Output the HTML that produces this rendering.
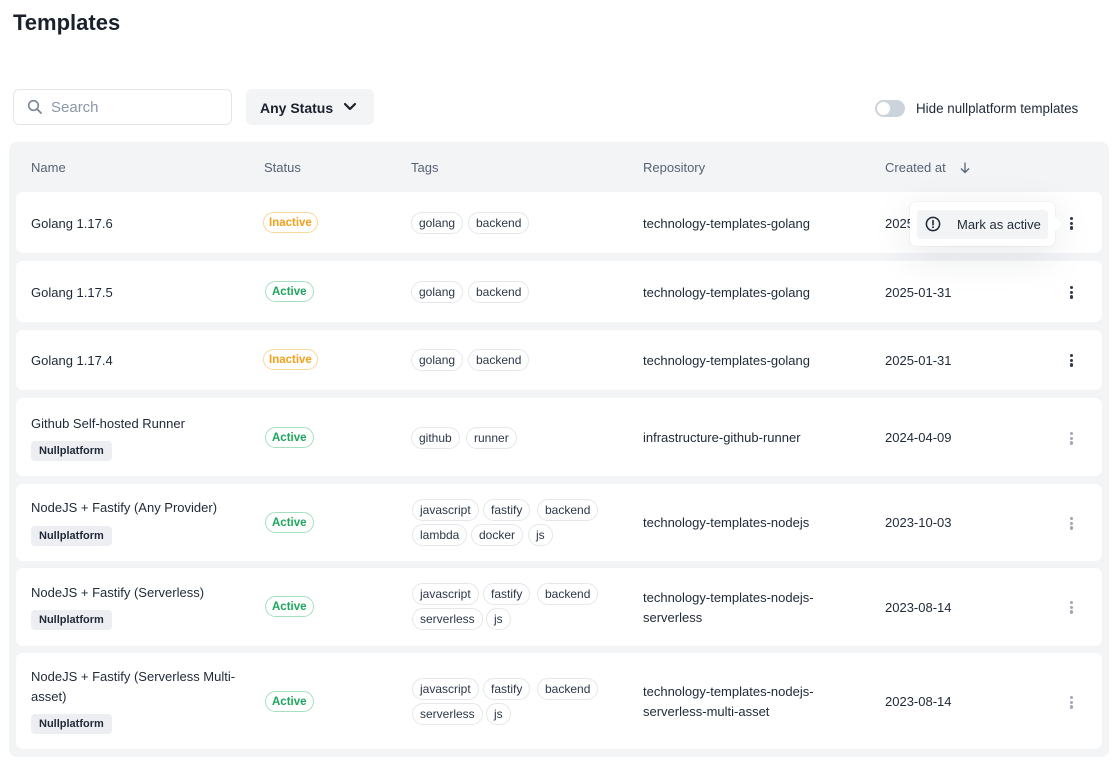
<!DOCTYPE html>
<html><head><meta charset="utf-8"><style>
*{box-sizing:border-box;margin:0;padding:0}
body{width:1115px;height:769px;background:#fff;font-family:"Liberation Sans",sans-serif;color:#1f2937;position:relative;overflow:hidden}
.a{position:absolute}
.t{font-size:13px;line-height:20px;white-space:nowrap;color:#1f2937;margin-top:1px}
.card{position:absolute;left:16px;width:1086px;background:#fff;border-radius:7px}
.hd{position:absolute;top:158px;font-size:13px;line-height:20px;color:#566274}
.badge{position:absolute;height:21px;line-height:20px;border-radius:11px;font-size:11.5px;font-weight:bold;padding:0 5px;border:1px solid}
.in{color:#f5a01a;border-color:#fbd79c}
.ac{color:#1ea55e;border-color:#a6dfc0;padding:0 6px}
.tag{position:absolute;height:22px;line-height:21px;border:1px solid #e5e7eb;border-radius:11px;font-size:12px;padding:0 7px;color:#2d3748;white-space:nowrap}
.np{position:absolute;left:31px;height:20px;line-height:20px;padding:0 8px;background:#eceef1;border-radius:4px;font-size:11px;font-weight:bold;color:#1f2937}
.dots{position:absolute;left:1070px;width:4px}
.dots i{display:block;width:3.4px;height:3.4px;border-radius:50%;margin-bottom:1.2px;background:#2f3a4a}
.dots.l i{background:#a0a7b3}
</style></head><body>
<div class="a" style="left:13px;top:9px;font-size:22px;font-weight:bold;color:#1a202c;line-height:28px">Templates</div>

<div class="a" style="left:13px;top:89px;width:219px;height:36px;border:1px solid #e2e6eb;border-radius:6px"></div>
<svg class="a" style="left:27px;top:99px" width="16" height="16" viewBox="0 0 16 16"><circle cx="6.5" cy="6.5" r="4.8" fill="none" stroke="#7b8594" stroke-width="1.6"/><line x1="10" y1="10" x2="14" y2="14" stroke="#7b8594" stroke-width="1.8" stroke-linecap="round"/></svg>
<div class="a" style="left:51px;top:98px;font-size:15px;line-height:20px;color:#8c96a5">Search</div>

<div class="a" style="left:246px;top:89px;width:128px;height:36px;background:#f3f4f6;border-radius:6px"></div>
<div class="a" style="left:260px;top:98px;font-size:14px;font-weight:bold;line-height:20px;color:#1a202c">Any Status</div>
<svg class="a" style="left:343px;top:101px" width="14" height="12" viewBox="0 0 14 12"><polyline points="2,3 7,8 12,3" fill="none" stroke="#1a202c" stroke-width="2.2" stroke-linecap="round" stroke-linejoin="round"/></svg>

<div class="a" style="left:875px;top:100px;width:30px;height:17px;border-radius:9px;background:#cdd3da"></div>
<div class="a" style="left:877px;top:102px;width:13px;height:13px;border-radius:50%;background:#fff"></div>
<div class="a" style="left:916px;top:99px;font-size:13.4px;line-height:20px;white-space:nowrap;color:#1f2937">Hide nullplatform templates</div>

<div class="a" style="left:9px;top:142px;width:1100px;height:615px;background:#f3f4f6;border-radius:8px"></div>
<div class="hd" style="left:31px">Name</div>
<div class="hd" style="left:264px">Status</div>
<div class="hd" style="left:411px">Tags</div>
<div class="hd" style="left:643px">Repository</div>
<div class="hd" style="left:885px">Created at</div>
<svg class="a" style="left:959px;top:161px" width="12" height="13" viewBox="0 0 12 13"><line x1="6" y1="1.5" x2="6" y2="11" stroke="#566274" stroke-width="1.3"/><polyline points="2,7.5 6,11.5 10,7.5" fill="none" stroke="#566274" stroke-width="1.3"/></svg>

<!-- row 1 -->
<div class="card" style="top:192px;height:61px"></div>
<div class="a t" style="left:31px;top:213px">Golang 1.17.6</div>
<div class="badge in" style="left:263px;top:212px">Inactive</div>
<div class="tag" style="left:411px;top:212px">golang</div>
<div class="tag" style="left:468px;top:212px">backend</div>
<div class="a t" style="left:643px;top:213px">technology-templates-golang</div>
<div class="a t" style="left:885px;top:213px">2025-01-31</div>
<div class="dots" style="top:217px"><i></i><i></i><i></i></div>

<!-- row 2 -->
<div class="card" style="top:261px;height:61px"></div>
<div class="a t" style="left:31px;top:282px">Golang 1.17.5</div>
<div class="badge ac" style="left:265px;top:281px">Active</div>
<div class="tag" style="left:411px;top:281px">golang</div>
<div class="tag" style="left:468px;top:281px">backend</div>
<div class="a t" style="left:643px;top:282px">technology-templates-golang</div>
<div class="a t" style="left:885px;top:282px">2025-01-31</div>
<div class="dots" style="top:286px"><i></i><i></i><i></i></div>

<!-- row 3 -->
<div class="card" style="top:330px;height:60px"></div>
<div class="a t" style="left:31px;top:350px">Golang 1.17.4</div>
<div class="badge in" style="left:263px;top:349px">Inactive</div>
<div class="tag" style="left:411px;top:349px">golang</div>
<div class="tag" style="left:468px;top:349px">backend</div>
<div class="a t" style="left:643px;top:350px">technology-templates-golang</div>
<div class="a t" style="left:885px;top:350px">2025-01-31</div>
<div class="dots" style="top:354px"><i></i><i></i><i></i></div>

<!-- row 4 -->
<div class="card" style="top:398px;height:78px"></div>
<div class="a t" style="left:31px;top:413px">Github Self-hosted Runner</div>
<div class="np" style="top:441px">Nullplatform</div>
<div class="badge ac" style="left:265px;top:427px">Active</div>
<div class="tag" style="left:411px;top:427px">github</div>
<div class="tag" style="left:466px;top:427px">runner</div>
<div class="a t" style="left:643px;top:427px">infrastructure-github-runner</div>
<div class="a t" style="left:885px;top:427px">2024-04-09</div>
<div class="dots l" style="top:432px"><i></i><i></i><i></i></div>

<!-- row 5 -->
<div class="card" style="top:484px;height:77px"></div>
<div class="a t" style="left:31px;top:497px">NodeJS + Fastify (Any Provider)</div>
<div class="np" style="top:526px">Nullplatform</div>
<div class="badge ac" style="left:265px;top:512px">Active</div>
<div class="tag" style="left:412px;top:499px">javascript</div>
<div class="tag" style="left:483px;top:499px">fastify</div>
<div class="tag" style="left:537px;top:499px">backend</div>
<div class="tag" style="left:412px;top:524px">lambda</div>
<div class="tag" style="left:471px;top:524px">docker</div>
<div class="tag" style="left:528px;top:524px">js</div>
<div class="a t" style="left:643px;top:512px">technology-templates-nodejs</div>
<div class="a t" style="left:885px;top:512px">2023-10-03</div>
<div class="dots l" style="top:517px"><i></i><i></i><i></i></div>

<!-- row 6 -->
<div class="card" style="top:568px;height:78px"></div>
<div class="a t" style="left:31px;top:582px">NodeJS + Fastify (Serverless)</div>
<div class="np" style="top:610px">Nullplatform</div>
<div class="badge ac" style="left:265px;top:596px">Active</div>
<div class="tag" style="left:412px;top:583px">javascript</div>
<div class="tag" style="left:483px;top:583px">fastify</div>
<div class="tag" style="left:537px;top:583px">backend</div>
<div class="tag" style="left:412px;top:608px">serverless</div>
<div class="tag" style="left:486px;top:608px">js</div>
<div class="a t" style="left:643px;top:587px">technology-templates-nodejs-</div>
<div class="a t" style="left:643px;top:607px">serverless</div>
<div class="a t" style="left:885px;top:597px">2023-08-14</div>
<div class="dots l" style="top:601px"><i></i><i></i><i></i></div>

<!-- row 7 -->
<div class="card" style="top:653px;height:96px"></div>
<div class="a t" style="left:31px;top:666px">NodeJS + Fastify (Serverless Multi-</div>
<div class="a t" style="left:31px;top:686px">asset)</div>
<div class="np" style="top:714px">Nullplatform</div>
<div class="badge ac" style="left:265px;top:691px">Active</div>
<div class="tag" style="left:412px;top:678px">javascript</div>
<div class="tag" style="left:483px;top:678px">fastify</div>
<div class="tag" style="left:537px;top:678px">backend</div>
<div class="tag" style="left:412px;top:703px">serverless</div>
<div class="tag" style="left:486px;top:703px">js</div>
<div class="a t" style="left:643px;top:681px">technology-templates-nodejs-</div>
<div class="a t" style="left:643px;top:701px">serverless-multi-asset</div>
<div class="a t" style="left:885px;top:691px">2023-08-14</div>
<div class="dots l" style="top:696px"><i></i><i></i><i></i></div>

<!-- popover -->
<div class="a" style="left:910px;top:202px;width:145px;height:44px;background:#fff;border-radius:6px;box-shadow:0 10px 40px rgba(30,40,60,0.10),0 0 0 1px rgba(0,0,0,0.03)"></div>
<div class="a" style="left:1050px;top:219px;width:10px;height:10px;background:#fff;transform:rotate(45deg)"></div>
<div class="a" style="left:917px;top:210px;width:131px;height:29px;background:#f3f4f6;border-radius:4px"></div>
<svg class="a" style="left:925px;top:216px" width="16" height="16" viewBox="0 0 16 16"><circle cx="8" cy="8" r="6.6" fill="none" stroke="#1f2937" stroke-width="1.5"/><line x1="8" y1="4.5" x2="8" y2="8.8" stroke="#1f2937" stroke-width="1.6" stroke-linecap="round"/><circle cx="8" cy="11.2" r="0.95" fill="#1f2937"/></svg>
<div class="a t" style="left:957px;top:214px">Mark as active</div>
</body></html>
